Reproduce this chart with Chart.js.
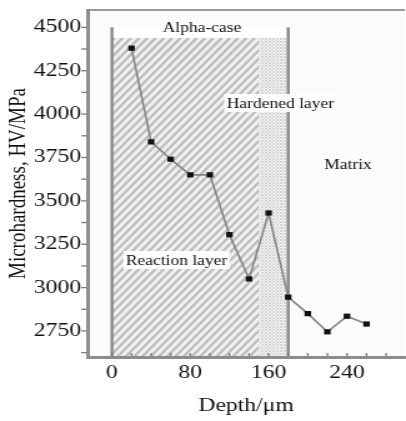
<!DOCTYPE html>
<html><head><meta charset="utf-8">
<script src="https://cdn.jsdelivr.net/npm/chart.js@4/dist/chart.umd.min.js"></script>
<style>
html,body{margin:0;padding:0;background:#fff;overflow:hidden}
#wrap{position:absolute;left:0;top:0;width:328px;height:421px;transform:scaleX(1.2492);transform-origin:0 0}
</style></head><body>
<div id="wrap"><canvas id="c" width="328" height="421"></canvas></div>
<script>
// ---- data ----
const depth = [20, 40, 60, 80, 100, 120, 140, 160, 180, 200, 220, 240, 260];
const hardness = [4380, 3840, 3740, 3650, 3650, 3305, 3050, 3430, 2945, 2850, 2745, 2835, 2790];
const xTickValues = [0, 80, 160, 240];
const yTickValues = [2750, 3000, 3250, 3500, 3750, 4000, 4250, 4500];
// zone boundaries (depth, µm): reaction layer, hardened layer, matrix
const zoneStarts = [0, 150, 180];
const zoneTopValue = 4440;
const alphaCaseTopValue = 4500;
// annotation labels and their anchor values (depth, hardness)
const labelTexts = ['Alpha-case', 'Hardened layer', 'Matrix', 'Reaction layer'];
const labelDepths = [92, 172, 241, 66];
const labelHardness = [4500, 4064, 3712, 3159];
const labelBoxed = [false, true, false, true];

const SERIF = '"Liberation Serif", "Times New Roman", serif';

const decor = {
  id: 'decor',
  beforeDraw(chart) {
    const {ctx, chartArea: a, scales: {x, y}} = chart;
    ctx.save();
    // plot background
    ctx.fillStyle = '#fbfbfb';
    ctx.fillRect(a.left, a.top, a.right - a.left, a.bottom - a.top);
    const x0 = x.getPixelForValue(zoneStarts[0]);
    const x1 = x.getPixelForValue(zoneStarts[1]);
    const x2 = x.getPixelForValue(zoneStarts[2]);
    const yTop = y.getPixelForValue(zoneTopValue);
    const yAlpha = y.getPixelForValue(alphaCaseTopValue);
    const yb = a.bottom;
    // white alpha-case box
    ctx.fillStyle = '#ffffff';
    ctx.fillRect(x0, yAlpha, x2 - x0, yb - yAlpha);
    // hatched reaction layer
    ctx.save();
    ctx.beginPath();
    ctx.rect(x0, yTop, x1 - x0, yb - yTop);
    ctx.clip();
    ctx.fillStyle = '#f0f0f0';
    ctx.fillRect(x0, yTop, x1 - x0, yb - yTop);
    ctx.strokeStyle = '#bcbcbc';
    ctx.lineWidth = 2.2;
    const h = yb - yTop;
    const p = 6.6;
    for (let sx = x0 - h; sx < x1 + p; sx += p) {
      ctx.beginPath();
      ctx.moveTo(sx, yb);
      ctx.lineTo(sx + h * 0.8, yTop);
      ctx.stroke();
    }
    ctx.restore();
    // cross-hatched hardened layer
    ctx.save();
    const pc = document.createElement('canvas');
    pc.width = 3; pc.height = 3;
    const pctx = pc.getContext('2d');
    pctx.fillStyle = '#f4f4f4'; pctx.fillRect(0, 0, 3, 3);
    pctx.fillStyle = '#d6d6d6';
    pctx.fillRect(0, 0, 1, 1); pctx.fillRect(1, 1, 1, 1); pctx.fillRect(2, 2, 1, 1);
    pctx.fillRect(2, 0, 1, 1); pctx.fillRect(0, 2, 1, 1);
    ctx.fillStyle = ctx.createPattern(pc, 'repeat');
    ctx.fillRect(x1, yTop, x2 - x1, yb - yTop);
    ctx.restore();
    // boundary lines
    ctx.strokeStyle = '#8a8a8a';
    ctx.lineWidth = 2.4;
    [x0, x2].forEach(px => {
      ctx.beginPath(); ctx.moveTo(px, yAlpha); ctx.lineTo(px, yb); ctx.stroke();
    });
    // top frame
    ctx.strokeStyle = '#9a9a9a';
    ctx.lineWidth = 2;
    ctx.beginPath(); ctx.moveTo(a.left, a.top); ctx.lineTo(a.right, a.top); ctx.stroke();
    // minor ticks
    ctx.strokeStyle = '#7a7a7a';
    ctx.lineWidth = 1.3;
    for (let v = 2625; v <= 4500; v += 125) {
      const py = y.getPixelForValue(v);
      ctx.beginPath(); ctx.moveTo(a.left - 5, py); ctx.lineTo(a.left, py); ctx.stroke();
    }
    for (let v = 0; v <= 280; v += 20) {
      const px = x.getPixelForValue(v);
      ctx.beginPath(); ctx.moveTo(px, a.bottom); ctx.lineTo(px, a.bottom - 4); ctx.stroke();
    }
    // labels
    ctx.font = '14px ' + SERIF;
    ctx.textAlign = 'center';
    ctx.textBaseline = 'middle';
    labelTexts.forEach((t, i) => {
      const px = x.getPixelForValue(labelDepths[i]);
      const py = y.getPixelForValue(labelHardness[i]);
      const w = ctx.measureText(t).width;
      if (labelBoxed[i]) {
        ctx.fillStyle = 'rgba(255,255,255,0.95)';
        ctx.fillRect(px - w / 2 - 2, py - 9, w + 4, 18);
      }
      ctx.fillStyle = '#111';
      ctx.fillText(t, px, py + 1);
    });
    ctx.restore();
  }
};

new Chart(document.getElementById('c'), {
  type: 'line',
  data: {
    datasets: [{
      data: depth.map((d, i) => ({x: d, y: hardness[i]})),
      borderColor: '#858585',
      borderWidth: 1.6,
      pointStyle: 'rect',
      pointRadius: 3.7,
      pointBackgroundColor: '#111',
      pointBorderWidth: 0,
      tension: 0
    }]
  },
  options: {
    responsive: false,
    animation: false,
    devicePixelRatio: 1,
    layout: {padding: {top: 10, right: 0, left: 0, bottom: 0}},
    plugins: {legend: {display: false}, tooltip: {enabled: false}},
    scales: {
      x: {
        type: 'linear', min: -25, max: 299,
        afterBuildTicks: s => { s.ticks = xTickValues.map(v => ({value: v})); },
        afterFit: s => { s.height = 64; s.paddingLeft = 0; s.paddingRight = 0; s.paddingTop = 0; s.paddingBottom = 0; },
        ticks: {font: {family: SERIF, size: 19}, color: '#111', padding: 5, maxRotation: 0, callback: v => String(v)},
        grid: {display: false, drawTicks: false},
        border: {display: true, color: '#8c8c8c', width: 3},
        title: {display: true, text: 'Depth/μm', font: {family: SERIF, size: 19}, color: '#111'}
      },
      y: {
        type: 'linear', min: 2600, max: 4600,
        afterBuildTicks: s => { s.ticks = yTickValues.map(v => ({value: v})); },
        afterFit: s => { s.width = 70; s.paddingLeft = 0; s.paddingRight = 0; s.paddingTop = 0; s.paddingBottom = 0; },
        ticks: {font: {family: SERIF, size: 19}, color: '#111', padding: 5, callback: v => String(v)},
        grid: {display: false, drawTicks: false},
        border: {display: true, color: '#8c8c8c', width: 3},
        title: {display: true, text: 'Microhardness, HV/MPa', font: {family: SERIF, size: 19}, color: '#111'}
      }
    }
  },
  plugins: [decor]
});
</script>
</body></html>
